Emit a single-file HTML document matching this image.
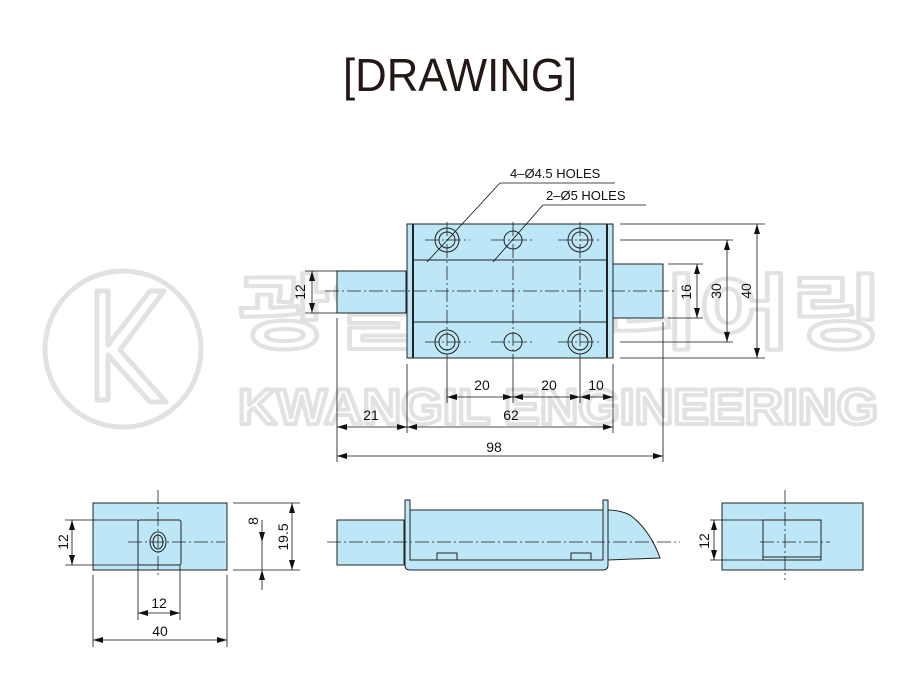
<!DOCTYPE html>
<html><head><meta charset="utf-8"><style>html,body{margin:0;padding:0;background:#fff}svg{display:block}</style></head><body>
<svg width="921" height="700" viewBox="0 0 921 700" xmlns="http://www.w3.org/2000/svg" font-family="Liberation Sans, sans-serif">
<defs>
<marker id="a" viewBox="0 0 10 6" refX="10" refY="3" markerWidth="10" markerHeight="6" orient="auto-start-reverse" markerUnits="userSpaceOnUse"><path d="M0,0 L10,3 L0,6 Z" fill="#111"/></marker>
</defs>
<!-- watermark -->
<g fill="none" stroke="#e2e2e2" stroke-width="5" stroke-linejoin="round">
<circle cx="123" cy="349" r="78"/>
<path d="M97,291 L97,400 L108,400 L108,355 L150,402 L166,402 L120,350 L164,291 L150,291 L108,345 L108,291 Z"/>
<text x="238" y="342" font-size="82" font-weight="bold" font-family="Noto Sans CJK KR, sans-serif" textLength="645" lengthAdjust="spacingAndGlyphs" stroke-width="4">광일엔지니어링</text>
<text x="238" y="424" font-size="50" font-weight="bold" textLength="640" lengthAdjust="spacingAndGlyphs" stroke-width="4">KWANGIL ENGINEERING</text>
</g>
<text x="343" y="91" font-size="46" fill="#231815" textLength="234" lengthAdjust="spacingAndGlyphs">[DRAWING]</text>

<g stroke="#222" stroke-width="1" fill="#bde6f7">
<rect x="337" y="271" width="69" height="42"/>
<rect x="613" y="264" width="50" height="54"/>
<rect x="407" y="224" width="206" height="134"/>
<line x1="413" y1="224" x2="413" y2="358" stroke-width="2"/>
<line x1="607" y1="224" x2="607" y2="358" stroke-width="2"/>
<line x1="413" y1="260" x2="607" y2="260"/>
<line x1="413" y1="322" x2="607" y2="322"/>
<circle cx="447" cy="240" r="12"/><circle cx="447" cy="240" r="8"/>
<circle cx="580" cy="240" r="12"/><circle cx="580" cy="240" r="8"/>
<circle cx="447" cy="342" r="12"/><circle cx="447" cy="342" r="8"/>
<circle cx="580" cy="342" r="12"/><circle cx="580" cy="342" r="8"/>
<circle cx="513" cy="240" r="9"/><circle cx="513" cy="342" r="9"/>
<rect x="93" y="503" width="134" height="67"/>
<rect x="138" y="520" width="43" height="45" rx="2"/>
<ellipse cx="158" cy="542" rx="8" ry="10"/><ellipse cx="158" cy="542" rx="5" ry="7"/>
<rect x="337" y="520" width="67" height="45"/>
<path d="M405,500 L410,500 L410,560 L603,560 L603,500 L608,500 L608,565 Q608,570 603,570 L410,570 Q405,570 405,565 Z"/>
<rect x="410" y="510" width="193" height="50"/>
<path d="M608,510 Q620,510 630,515 Q650,530 660,558 L608,560 Z"/>
<rect x="437" y="553" width="20" height="7"/>
<rect x="571" y="553" width="20" height="7"/>
<rect x="722" y="503" width="141" height="67"/>
<rect x="763" y="520" width="58" height="40"/>
<line x1="763" y1="557" x2="821" y2="557"/>
</g>

<g stroke="#222" stroke-width="0.8" stroke-dasharray="14,3,2,3" fill="none">
<line x1="325" y1="291" x2="675" y2="291"/>
<line x1="447" y1="222" x2="447" y2="364"/><line x1="513" y1="222" x2="513" y2="364"/><line x1="580" y1="222" x2="580" y2="364"/>
<line x1="425" y1="240" x2="470" y2="240"/><line x1="491" y1="240" x2="535" y2="240"/><line x1="558" y1="240" x2="602" y2="240"/>
<line x1="425" y1="342" x2="470" y2="342"/><line x1="491" y1="342" x2="535" y2="342"/><line x1="558" y1="342" x2="602" y2="342"/>
<line x1="158" y1="490" x2="158" y2="578"/>
<line x1="128" y1="542" x2="225" y2="542"/>
<line x1="327" y1="542" x2="680" y2="542"/>
<line x1="785" y1="490" x2="785" y2="580"/>
<line x1="760" y1="542" x2="830" y2="542"/>
</g>

<g stroke="#111" stroke-width="0.8" fill="none">
<line x1="305" y1="271" x2="337" y2="271"/><line x1="305" y1="313" x2="337" y2="313"/>
<line x1="620" y1="224" x2="765" y2="224"/><line x1="620" y1="358" x2="765" y2="358"/>
<line x1="620" y1="240" x2="733" y2="240"/><line x1="620" y1="342" x2="733" y2="342"/>
<line x1="668" y1="264" x2="703" y2="264"/><line x1="668" y1="318" x2="703" y2="318"/>
<line x1="447" y1="364" x2="447" y2="403"/><line x1="513" y1="364" x2="513" y2="403"/><line x1="580" y1="364" x2="580" y2="403"/>
<line x1="613" y1="364" x2="613" y2="433"/><line x1="407" y1="364" x2="407" y2="433"/>
<line x1="337" y1="318" x2="337" y2="462"/><line x1="663" y1="322" x2="663" y2="462"/>
<line x1="312" y1="271" x2="312" y2="313" marker-start="url(#a)" marker-end="url(#a)"/>
<line x1="697" y1="264" x2="697" y2="318" marker-start="url(#a)" marker-end="url(#a)"/>
<line x1="727" y1="240" x2="727" y2="342" marker-start="url(#a)" marker-end="url(#a)"/>
<line x1="757" y1="224" x2="757" y2="358" marker-start="url(#a)" marker-end="url(#a)"/>
<line x1="447" y1="397" x2="513" y2="397" marker-start="url(#a)" marker-end="url(#a)"/>
<line x1="513" y1="397" x2="580" y2="397" marker-start="url(#a)" marker-end="url(#a)"/>
<line x1="580" y1="397" x2="613" y2="397" marker-start="url(#a)" marker-end="url(#a)"/>
<line x1="337" y1="427" x2="407" y2="427" marker-start="url(#a)" marker-end="url(#a)"/>
<line x1="407" y1="427" x2="613" y2="427" marker-start="url(#a)" marker-end="url(#a)"/>
<line x1="337" y1="456" x2="663" y2="456" marker-start="url(#a)" marker-end="url(#a)"/>
<polyline points="615,183 500,183 427,262"/>
<polyline points="646,205 543,205 493,262"/>
<line x1="65" y1="520" x2="138" y2="520"/><line x1="65" y1="565" x2="138" y2="565"/>
<line x1="72" y1="520" x2="72" y2="565" marker-start="url(#a)" marker-end="url(#a)"/>
<line x1="233" y1="503" x2="300" y2="503"/><line x1="233" y1="570" x2="300" y2="570"/>
<line x1="262" y1="520" x2="262" y2="542" marker-end="url(#a)"/>
<line x1="262" y1="590" x2="262" y2="570" marker-end="url(#a)"/>
<line x1="262" y1="542" x2="262" y2="570"/>
<line x1="292" y1="503" x2="292" y2="570" marker-start="url(#a)" marker-end="url(#a)"/>
<line x1="138" y1="565" x2="138" y2="620"/><line x1="180" y1="565" x2="180" y2="620"/>
<line x1="138" y1="613" x2="180" y2="613" marker-start="url(#a)" marker-end="url(#a)"/>
<line x1="93" y1="575" x2="93" y2="647"/><line x1="227" y1="575" x2="227" y2="647"/>
<line x1="93" y1="640" x2="227" y2="640" marker-start="url(#a)" marker-end="url(#a)"/>
<line x1="710" y1="520" x2="763" y2="520"/><line x1="710" y1="560" x2="763" y2="560"/>
<line x1="714" y1="520" x2="714" y2="560" marker-start="url(#a)" marker-end="url(#a)"/>
</g>

<g fill="#111" font-size="14">
<text x="510" y="178" font-size="13">4–Ø4.5 HOLES</text>
<text x="546" y="200" font-size="13">2–Ø5 HOLES</text>
<text x="482" y="390" text-anchor="middle">20</text>
<text x="549" y="390" text-anchor="middle">20</text>
<text x="596" y="390" text-anchor="middle">10</text>
<text x="371" y="420" text-anchor="middle">21</text>
<text x="511" y="420" text-anchor="middle">62</text>
<text x="494" y="452" text-anchor="middle">98</text>
<text transform="translate(305,292) rotate(-90)" text-anchor="middle">12</text>
<text transform="translate(691,292) rotate(-90)" text-anchor="middle">16</text>
<text transform="translate(721,291) rotate(-90)" text-anchor="middle">30</text>
<text transform="translate(751,291) rotate(-90)" text-anchor="middle">40</text>
<text transform="translate(68,542) rotate(-90)" text-anchor="middle">12</text>
<text transform="translate(258,521) rotate(-90)" text-anchor="middle">8</text>
<text transform="translate(288,537) rotate(-90)" text-anchor="middle">19.5</text>
<text x="159" y="608" text-anchor="middle">12</text>
<text x="160" y="636" text-anchor="middle">40</text>
<text transform="translate(709,541) rotate(-90)" text-anchor="middle">12</text>
</g>
</svg>
</body></html>
